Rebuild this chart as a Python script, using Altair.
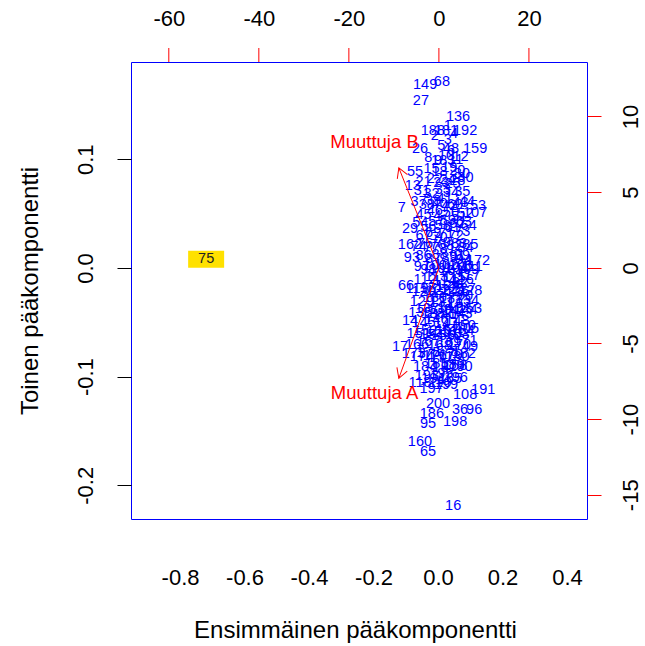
import altair as alt
import pandas as pd
import numpy as np

# ---------------- data ----------------
known_labels = [75, 149, 68, 27, 136, 192, 159, 183, 80, 13,
                7, 60, 53, 107, 29, 162, 172, 99, 66, 92,
                90, 153, 14, 105, 17, 49, 158, 118, 165, 191,
                108, 36, 96, 186, 95, 198, 160, 65, 16, 26,
                48, 188, 181, 55, 93, 110]
known_pc1 = [-0.719, -0.040, 0.012, -0.053, 0.062, 0.084, 0.115, 0.016, 0.074, -0.078,
             -0.112, 0.053, 0.124, 0.115, -0.087, -0.087, 0.124, 0.074, -0.099, 0.068,
             0.084, 0.099, -0.087, 0.090, -0.118, 0.099, 0.053, -0.056, 0.037, 0.140,
             0.084, 0.068, 0.112, -0.019, -0.031, 0.053, -0.056, -0.031, 0.047, -0.056,
             0.040, -0.016, 0.025, -0.071, -0.081, 0.006]
known_pc2 = [0.008, 0.168, 0.171, 0.154, 0.139, 0.126, 0.109, 0.098, 0.086, 0.075,
             0.055, 0.058, 0.057, 0.051, 0.036, 0.021, 0.006, 0.011, -0.017, -0.014,
             -0.026, -0.038, -0.049, -0.056, -0.073, -0.073, -0.090, -0.106, -0.102, -0.112,
             -0.117, -0.131, -0.131, -0.134, -0.144, -0.142, -0.160, -0.169, -0.219, 0.109,
             0.109, 0.126, 0.126, 0.088, 0.009, -0.106]

# remaining (overplotted) observations in the dense cloud
cloud_pc1 = [0.030,
             -0.010, 0.030, 0.050,
             0.010, 0.040,
             -0.030, 0.000, 0.025, 0.055, 0.070,
             -0.020, 0.005, 0.035, 0.060,
             -0.045, -0.010, 0.010, 0.030, 0.045, 0.060, 0.085,
             -0.050, -0.020, 0.015, 0.040, 0.075,
             -0.060, -0.035, -0.015, 0.005, 0.020, 0.035, 0.070, 0.090,
             -0.045, -0.010, 0.010, 0.040, 0.065, 0.085,
             -0.055, -0.030, -0.005, 0.015, 0.030, 0.045, 0.060, 0.080, 0.095,
             -0.045, -0.015, 0.005, 0.025, 0.055, 0.075,
             -0.060, -0.040, -0.020, 0.000, 0.015, 0.030, 0.050, 0.065, 0.085, 0.100,
             -0.045, -0.015, 0.005, 0.035, 0.060, 0.080,
             -0.050, -0.030, -0.010, 0.010, 0.025, 0.040, 0.055, 0.070, 0.090, 0.105,
             -0.040, -0.005, 0.020, 0.050, 0.075, 0.095,
             -0.065, -0.045, -0.020, 0.000, 0.015, 0.030, 0.045, 0.060, 0.080, 0.100,
             -0.050, -0.010, 0.010, 0.040, 0.065, 0.090,
             -0.055, -0.035, -0.015, 0.005, 0.020, 0.035, 0.050, 0.070, 0.085,
             -0.045, -0.005, 0.025, 0.060, 0.080,
             -0.060, -0.040, -0.020, 0.000, 0.015, 0.030, 0.045, 0.060, 0.075,
             -0.065, -0.030, 0.005, 0.035, 0.065, 0.085,
             -0.075, -0.050, -0.030, -0.010, 0.010, 0.025, 0.040, 0.060, 0.080,
             -0.040, -0.005, 0.020, 0.045, 0.070,
             -0.035, -0.015, 0.010, 0.055,
             -0.020, 0.025,
             0.000]
cloud_pc2 = [0.131,
             0.121, 0.118, 0.123,
             0.112, 0.108,
             0.101, 0.098, 0.103, 0.099, 0.102,
             0.091, 0.088, 0.092, 0.089,
             0.079, 0.082, 0.078, 0.081, 0.077, 0.080, 0.083,
             0.071, 0.068, 0.072, 0.069, 0.070,
             0.061, 0.058, 0.062, 0.059, 0.063, 0.057, 0.060, 0.061,
             0.049, 0.052, 0.048, 0.051, 0.047, 0.050,
             0.041, 0.038, 0.042, 0.039, 0.043, 0.037, 0.040, 0.042, 0.039,
             0.029, 0.032, 0.028, 0.031, 0.029, 0.033,
             0.019, 0.022, 0.018, 0.021, 0.023, 0.017, 0.020, 0.022, 0.018, 0.021,
             0.011, 0.008, 0.012, 0.009, 0.011, 0.007,
             0.001, -0.002, 0.002, -0.001, 0.003, -0.003, 0.000, 0.002, -0.002, 0.001,
             -0.011, -0.008, -0.012, -0.009, -0.011, -0.007,
             -0.019, -0.022, -0.018, -0.021, -0.023, -0.017, -0.020, -0.022, -0.019, -0.021,
             -0.031, -0.028, -0.032, -0.029, -0.033, -0.030,
             -0.041, -0.038, -0.042, -0.039, -0.043, -0.037, -0.040, -0.042, -0.039,
             -0.051, -0.048, -0.052, -0.049, -0.053,
             -0.061, -0.058, -0.062, -0.059, -0.063, -0.057, -0.060, -0.062, -0.058,
             -0.071, -0.068, -0.072, -0.069, -0.071, -0.067,
             -0.079, -0.082, -0.078, -0.081, -0.083, -0.077, -0.080, -0.082, -0.079,
             -0.091, -0.088, -0.092, -0.089, -0.091,
             -0.099, -0.102, -0.098, -0.101,
             -0.111, -0.108,
             -0.125]

var_names = ["Muuttuja A", "Muuttuja B"]
load1 = [-8.9, -8.9]
load2 = [-7.3, 6.6]
name_x = [-14.3, -14.3]
name_y = [-8.3, 8.3]

x_ticks = [-0.8, -0.6, -0.4, -0.2, 0.0, 0.2, 0.4]
y_ticks = [-0.2, -0.1, 0.0, 0.1]
x2_ticks = [-60, -40, -20, 0, 20]
y2_ticks = [-15, -10, -5, 0, 5, 10]

highlight = "75"

# ---------------- layout ----------------
W, H = 456, 457
XDOM = [-0.952, 0.462]
YDOM = [-0.231, 0.1895]
X2DOM = [-68.4, 32.9]
Y2DOM = [-16.6, 13.6]
FONT = "Liberation Sans"
TICK_FS = 22
TITLE_FS = 24
TICK_LEN = 14

rest = [i for i in range(1, 201) if i not in set(known_labels)]
df = pd.DataFrame({
    "label": [str(v) for v in known_labels + rest],
    "pc1": known_pc1 + cloud_pc1,
    "pc2": known_pc2 + cloud_pc2,
})

# arrowhead direction in screen space
sx = W / (X2DOM[1] - X2DOM[0])
sy = H / (Y2DOM[1] - Y2DOM[0])
ang = [float(np.degrees(np.arctan2(a * sx, b * sy)) % 360) for a, b in zip(load1, load2)]
arr = pd.DataFrame({"name": var_names, "ax": load1, "ay": load2,
                    "ox": [0.0, 0.0], "oy": [0.0, 0.0],
                    "nx": name_x, "ny": name_y, "ang": ang})
top_ticks = pd.DataFrame({"t": x2_ticks})


def lab(fmt):
    return f"datum.value < 0 ? '-' + format(-datum.value, '{fmt}') : format(datum.value, '{fmt}')"


xs = alt.X("pc1:Q", scale=alt.Scale(domain=XDOM, nice=False, zero=False),
           title="Ensimmäinen pääkomponentti",
           axis=alt.Axis(orient="bottom", values=x_ticks, labelExpr=lab(".1f"),
                         grid=False, domain=False, ticks=False,
                         labelFontSize=TICK_FS, labelColor="black", labelFont=FONT,
                         labelPadding=58, labelBaseline="middle", labelOverlap=False,
                         labelFlush=False,
                         titleFontSize=TITLE_FS, titleFont=FONT, titleFontWeight="normal",
                         titleColor="black", titleBaseline="middle", titleY=111, titleX=W / 2 - 4))
ys = alt.Y("pc2:Q", scale=alt.Scale(domain=YDOM, nice=False, zero=False),
           title="Toinen pääkomponentti",
           axis=alt.Axis(orient="left", values=y_ticks, labelExpr=lab(".1f"),
                         grid=False, domain=False, ticks=True, tickColor="black", tickSize=TICK_LEN,
                         tickWidth=1, tickOpacity=1,
                         labelFontSize=TICK_FS, labelColor="black", labelFont=FONT,
                         labelAngle=-90, labelAlign="center", labelBaseline="middle",
                         labelPadding=32, labelOverlap=False, labelFlush=False,
                         titleFontSize=TITLE_FS, titleFont=FONT, titleFontWeight="normal",
                         titleColor="black", titleAngle=-90, titleBaseline="middle",
                         titleX=-101, titleY=H / 2))


def x2(field):
    return alt.X(field, scale=alt.Scale(domain=X2DOM, nice=False, zero=False), title=None,
                 axis=alt.Axis(orient="top", values=x2_ticks, labelExpr=lab(".0f"),
                               grid=False, domain=False, ticks=False,
                               labelFontSize=TICK_FS, labelColor="black", labelFont=FONT,
                               labelPadding=30 + TICK_LEN, labelBaseline="middle",
                               labelOverlap=False, labelFlush=False))


def y2(field):
    return alt.Y(field, scale=alt.Scale(domain=Y2DOM, nice=False, zero=False), title=None,
                 axis=alt.Axis(orient="right", values=y2_ticks, labelExpr=lab(".0f"),
                               grid=False, domain=False, ticks=True, tickColor="#ff0000",
                               tickSize=TICK_LEN, tickWidth=1, tickOpacity=1,
                               labelFontSize=TICK_FS, labelColor="black", labelFont=FONT,
                               labelAngle=-90, labelAlign="center", labelBaseline="middle",
                               labelPadding=29, labelOverlap=False, labelFlush=False))


base = alt.Chart(df)
cloud = base.transform_filter(f"datum.label != '{highlight}'").mark_text(
    font=FONT, fontSize=14.5, color="#0000ff").encode(x=xs, y=ys, text="label:N")
box = base.transform_filter(f"datum.label == '{highlight}'").mark_point(
    shape="M-1,-0.47L1,-0.47L1,0.47L-1,0.47Z", filled=True, fill="#ffe100",
    strokeWidth=0, size=1296, opacity=1).encode(x=xs, y=ys)
hl = base.transform_filter(f"datum.label == '{highlight}'").mark_text(
    font=FONT, fontSize=14.5, color="#222222").encode(x=xs, y=ys, text="label:N")
inner = alt.layer(box, cloud, hl)

abase = alt.Chart(arr)
rules = abase.mark_rule(color="#ff0000", strokeWidth=1).encode(
    x=x2("ax:Q"), y=y2("ay:Q"), x2="ox:Q", y2="oy:Q")
heads = abase.mark_point(shape="M-0.5,0.866L0,0L0.5,0.866", filled=False,
                         color="#ff0000", strokeWidth=1, size=484, opacity=1).encode(
    x=x2("ax:Q"), y=y2("ay:Q"), angle=alt.Angle("ang:Q", scale=None))
names = abase.mark_text(font=FONT, fontSize=18.5, color="#ff0000").encode(
    x=x2("nx:Q"), y=y2("ny:Q"), text="name:N")
tticks = alt.Chart(top_ticks).mark_rule(color="#ff0000", strokeWidth=1, clip=False).encode(
    x=x2("t:Q"), y=alt.value(-TICK_LEN), y2=alt.value(0))
outer = alt.layer(rules, heads, names, tticks)

chart = alt.layer(inner, outer).resolve_scale(x="independent", y="independent").properties(
    width=W, height=H,
    autosize=alt.AutoSizeParams(type="none"),
    padding={"left": 131, "top": 62, "right": 58, "bottom": 127},
    background="white",
).configure(font=FONT).configure_view(stroke="#0000ff", strokeWidth=1)

chart.save("out.html", embed_options={"renderer": "svg", "actions": False})
